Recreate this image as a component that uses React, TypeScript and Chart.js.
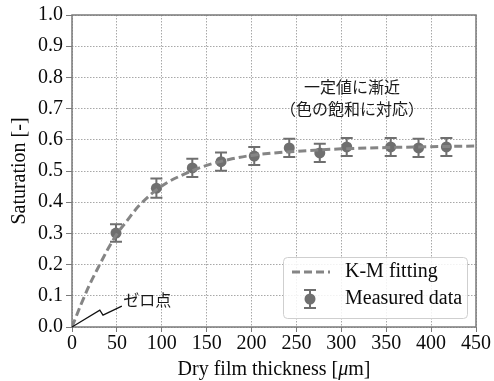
import React, { useEffect, useRef } from "react";
import { Chart, registerables } from "chart.js";

Chart.register(...registerables);

const measuredX = [49, 94, 134, 166, 203, 242, 276, 306, 355, 386, 417];
const measuredY = [0.301, 0.445, 0.51, 0.53, 0.548, 0.574, 0.558, 0.577, 0.577, 0.574, 0.577];
const measuredErr = [0.028, 0.031, 0.029, 0.029, 0.029, 0.029, 0.029, 0.029, 0.029, 0.029, 0.029];

const fitX = [0, 10, 20, 30, 40, 50, 60, 75, 100, 125, 150, 175, 200, 250, 300, 350, 400, 450];
const fitY = [0, 0.072, 0.138, 0.195, 0.25, 0.298, 0.336, 0.39, 0.452, 0.49, 0.518, 0.537, 0.55, 0.563, 0.571, 0.575, 0.578, 0.58];

const xTicks = [0, 50, 100, 150, 200, 250, 300, 350, 400, 450];
const yTicks = [0, 0.1, 0.2, 0.3, 0.4, 0.5, 0.6, 0.7, 0.8, 0.9, 1.0];

const zeroLeaderX = [0, 31, 34.5, 55.5];
const zeroLeaderY = [0, 0.054, 0.038, 0.067];

const noteLines = ["一定値に漸近", "（色の飽和に対応）"];
const noteX = 312;
const noteY = [0.771, 0.70];
const zeroLabel = "ゼロ点";
const zeroLabelX = 57;
const zeroLabelY = 0.086;

const legendLabels = ["K-M fitting", "Measured data"];
const xTitleParts = ["Dry film thickness [", "μ", "m]"];
const yTitle = "Saturation [-]";

const SERIF = "'Liberation Serif', 'Times New Roman', serif";
const CJK = "'Noto Sans CJK JP', sans-serif";
const MARK = "#6f6f6f";
const FIT = "#858585";
const TEXT = "#0a0a0a";

const extrasPlugin = {
  id: "extras",
  beforeDatasetsDraw(chart: any) {
    const { ctx } = chart;
    const xs = chart.scales.x;
    const ys = chart.scales.y;
    ctx.save();
    ctx.strokeStyle = MARK;
    ctx.lineWidth = 2;
    measuredX.forEach((xv, i) => {
      const px = xs.getPixelForValue(xv);
      const top = ys.getPixelForValue(measuredY[i] + measuredErr[i]);
      const bot = ys.getPixelForValue(measuredY[i] - measuredErr[i]);
      ctx.beginPath();
      ctx.moveTo(px, top);
      ctx.lineTo(px, bot);
      ctx.moveTo(px - 6, top);
      ctx.lineTo(px + 6, top);
      ctx.moveTo(px - 6, bot);
      ctx.lineTo(px + 6, bot);
      ctx.stroke();
    });
    ctx.restore();
  },
  afterDraw(chart: any) {
    const { ctx, chartArea } = chart;
    const xs = chart.scales.x;
    const ys = chart.scales.y;
    ctx.save();
    // frame
    ctx.strokeStyle = "#7a7a7a";
    ctx.lineWidth = 1.5;
    ctx.strokeRect(chartArea.left, chartArea.top, chartArea.right - chartArea.left, chartArea.bottom - chartArea.top);

    // x title with italic mu
    ctx.fillStyle = TEXT;
    ctx.textBaseline = "middle";
    ctx.textAlign = "left";
    const fonts = [`20px ${SERIF}`, `italic 20px ${SERIF}`, `20px ${SERIF}`];
    let total = 0;
    const widths = xTitleParts.map((p, i) => {
      ctx.font = fonts[i];
      const w = ctx.measureText(p).width;
      total += w;
      return w;
    });
    let tx = (chartArea.left + chartArea.right) / 2 - total / 2;
    const ty = chart.height - 11;
    xTitleParts.forEach((p, i) => {
      ctx.font = fonts[i];
      ctx.fillText(p, tx, ty);
      tx += widths[i];
    });

    // notes
    ctx.fillStyle = "#1a1a1a";
    ctx.font = `16px ${CJK}`;
    ctx.textAlign = "center";
    ctx.textBaseline = "middle";
    noteLines.forEach((t, i) => {
      ctx.fillText(t, xs.getPixelForValue(noteX), ys.getPixelForValue(noteY[i]));
    });
    ctx.textAlign = "left";
    ctx.fillText(zeroLabel, xs.getPixelForValue(zeroLabelX), ys.getPixelForValue(zeroLabelY));

    // zero leader
    ctx.strokeStyle = "#111";
    ctx.lineWidth = 1.2;
    ctx.beginPath();
    zeroLeaderX.forEach((xv, i) => {
      const px = xs.getPixelForValue(xv);
      const py = ys.getPixelForValue(zeroLeaderY[i]);
      if (i === 0) ctx.moveTo(px, py);
      else ctx.lineTo(px, py);
    });
    ctx.stroke();

    // legend
    const w = 184;
    const h = 61;
    const lx = chartArea.right - 9 - w;
    const ly = chartArea.bottom - 9 - h;
    ctx.fillStyle = "rgba(255,255,255,0.85)";
    ctx.strokeStyle = "#cfcfcf";
    ctx.lineWidth = 1;
    ctx.beginPath();
    (ctx as any).roundRect(lx + 0.5, ly + 0.5, w, h, 4);
    ctx.fill();
    ctx.stroke();
    const row1 = ly + 15;
    const row2 = ly + 42;
    ctx.strokeStyle = FIT;
    ctx.lineWidth = 3;
    ctx.setLineDash([8, 4]);
    ctx.beginPath();
    ctx.moveTo(lx + 9, row1);
    ctx.lineTo(lx + 47, row1);
    ctx.stroke();
    ctx.setLineDash([]);
    const mx = lx + 27;
    ctx.strokeStyle = MARK;
    ctx.lineWidth = 2;
    ctx.beginPath();
    ctx.moveTo(mx, row2 - 9);
    ctx.lineTo(mx, row2 + 9);
    ctx.moveTo(mx - 6, row2 - 9);
    ctx.lineTo(mx + 6, row2 - 9);
    ctx.moveTo(mx - 6, row2 + 9);
    ctx.lineTo(mx + 6, row2 + 9);
    ctx.stroke();
    ctx.fillStyle = MARK;
    ctx.beginPath();
    ctx.arc(mx, row2, 5.5, 0, Math.PI * 2);
    ctx.fill();
    ctx.fillStyle = TEXT;
    ctx.font = `20px ${SERIF}`;
    ctx.textAlign = "left";
    ctx.textBaseline = "middle";
    ctx.fillText(legendLabels[0], lx + 62, row1);
    ctx.fillText(legendLabels[1], lx + 62, row2);
    ctx.restore();
  },
};

export default function App() {
  const ref = useRef<HTMLCanvasElement>(null);
  useEffect(() => {
    document.body.style.margin = "0";
    const chart = new Chart(ref.current!, {
      type: "scatter",
      data: {
        datasets: [
          {
            type: "line",
            label: legendLabels[0],
            data: fitX.map((x, i) => ({ x, y: fitY[i] })),
            borderColor: FIT,
            borderWidth: 3,
            borderDash: [8, 4],
            pointRadius: 0,
            cubicInterpolationMode: "monotone",
            fill: false,
          } as any,
          {
            label: legendLabels[1],
            data: measuredX.map((x, i) => ({ x, y: measuredY[i] })),
            backgroundColor: MARK,
            borderColor: MARK,
            pointRadius: 5.5,
            pointBorderWidth: 0,
          },
        ],
      },
      options: {
        animation: false,
        responsive: false,
        maintainAspectRatio: false,
        layout: { padding: { top: 13, right: 18, left: 0, bottom: 0 } },
        plugins: { legend: { display: false }, tooltip: { enabled: false } },
        scales: {
          x: {
            type: "linear",
            min: 0,
            max: 450,
            afterBuildTicks: (s: any) => {
              s.ticks = xTicks.map((v) => ({ value: v }));
            },
            afterFit: (s: any) => {
              s.height = 54;
            },
            ticks: {
              color: TEXT,
              font: { family: SERIF, size: 20 },
              padding: 0,
              maxRotation: 0,
              callback: (v: any) => String(v),
            },
            grid: {
              color: "#a8a8a8",
              lineWidth: 1,
              tickLength: 5,
              tickColor: "#7a7a7a",
            } as any,
            border: { display: false, dash: [1.5, 1.5] } as any,
            title: { display: false },
          },
          y: {
            type: "linear",
            min: 0,
            max: 1,
            afterBuildTicks: (s: any) => {
              s.ticks = yTicks.map((v) => ({ value: v }));
            },
            afterFit: (s: any) => {
              s.width = 72;
            },
            ticks: {
              color: TEXT,
              font: { family: SERIF, size: 20 },
              padding: 3,
              callback: (v: any) => Number(v).toFixed(1),
            },
            grid: {
              color: "#a8a8a8",
              lineWidth: 1,
              tickLength: 6,
              tickColor: "#7a7a7a",
            } as any,
            border: { display: false, dash: [1.5, 1.5] } as any,
            title: {
              display: true,
              text: yTitle,
              color: TEXT,
              font: { family: SERIF, size: 20, lineHeight: 1.2 },
              padding: { top: 8, bottom: 0 },
            },
          },
        },
      },
      plugins: [extrasPlugin],
    });
    return () => chart.destroy();
  }, []);
  return (
    <div style={{ position: "absolute", left: 0, top: 0, width: 494, height: 381 }}>
      <canvas ref={ref} width={494} height={381} style={{ width: 494, height: 381 }} />
    </div>
  );
}
